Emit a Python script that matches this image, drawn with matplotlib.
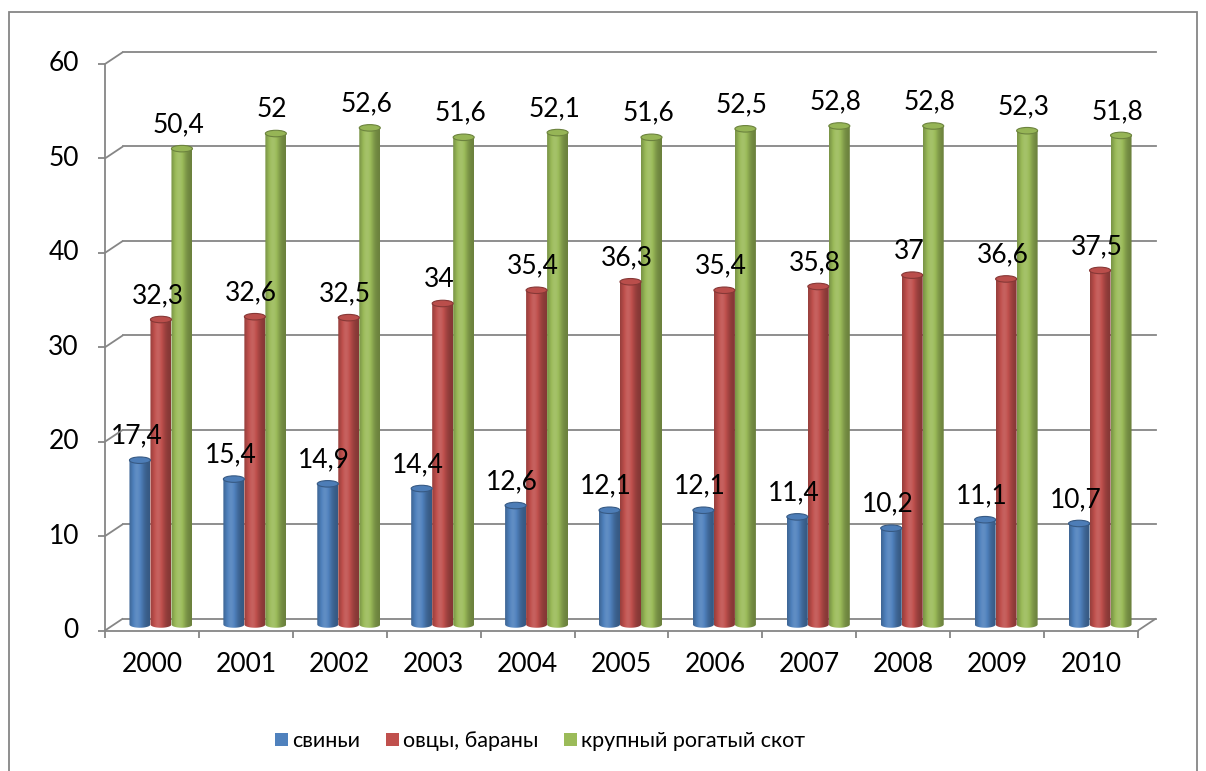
import numpy as np
import matplotlib
matplotlib.use('Agg')
import matplotlib.pyplot as plt
from matplotlib.patches import Ellipse, PathPatch, Patch, Rectangle
from matplotlib.path import Path
from matplotlib.transforms import Affine2D
from matplotlib.lines import Line2D

plt.rcParams['font.family'] = ['Lato', 'DejaVu Sans']

################## data ##################################
years = ['2000', '2001', '2002', '2003', '2004', '2005', '2006', '2007', '2008', '2009', '2010']
pigs = [17.4, 15.4, 14.9, 14.4, 12.6, 12.1, 12.1, 11.4, 10.2, 11.1, 10.7]
sheep = [32.3, 32.6, 32.5, 34, 35.4, 36.3, 35.4, 35.8, 37, 36.6, 37.5]
cattle = [50.4, 52, 52.6, 51.6, 52.1, 51.6, 52.5, 52.8, 52.8, 52.3, 51.8]
series_names = ['свиньи', 'овцы, бараны', 'крупный рогатый скот']
yticks = [0, 10, 20, 30, 40, 50, 60]

colors = ['#4F81BD', '#C0504D', '#9BBB59']
grid_col = '#868686'
fsize = 19

################## figure / fake 3d geometry ############################
W, H = 1206, 771
fig = plt.figure(figsize=(W / 100, H / 100), dpi=100)
top_px, zero_px = 58, 624.5          # middle depth plane
ppu = (zero_px - top_px) / 60.0
left_px, width_px = 114, 1033
ax = fig.add_axes([left_px / W, (H - zero_px - ppu) / H, width_px / W, (zero_px - top_px + ppu) / H])
ax.set_xlim(-0.5, len(years) - 0.5)
ax.set_ylim(-1, 60)
ax.axis('off')

depth_x, depth_y = 9, 6
back = ax.transData + Affine2D().translate(depth_x, depth_y)
front = ax.transData + Affine2D().translate(-depth_x, -depth_y)
xmin, xmax = -0.5, len(years) - 0.5


def seg(p, q, **kw):
    fig.add_artist(Line2D([p[0], q[0]], [p[1], q[1]], transform=None, color=grid_col,
                          lw=1.3, solid_capstyle='butt', **kw))


# back wall gridlines + left diagonals + front y axis ticks
for v in yticks:
    ax.plot([xmin, xmax], [v, v], transform=back, color=grid_col, lw=1.3, clip_on=False, zorder=1)
    pf = front.transform((xmin, v))
    pb = back.transform((xmin, v))
    seg(pf, pb)
    seg((pf[0] - 7, pf[1]), pf)
    ax.annotate(str(v), xy=(xmin, v), xycoords=front, xytext=(-26, 0), textcoords='offset pixels',
                ha='right', va='center', fontsize=fsize)

# front y axis line
ax.plot([xmin, xmin], [0, 60], transform=front, color=grid_col, lw=1.3, clip_on=False)
# front floor line + right diagonal + category ticks
ax.plot([xmin, xmax], [0, 0], transform=front, color=grid_col, lw=1.3, clip_on=False)
seg(front.transform((xmax, 0)), back.transform((xmax, 0)))
for i in range(len(years) + 1):
    p = front.transform((i - 0.5, 0))
    seg(p, (p[0], p[1] - 7))
for i, y in enumerate(years):
    ax.annotate(y, xy=(i, 0), xycoords=front, xytext=(0, -34), textcoords='offset pixels',
                ha='center', va='center', fontsize=fsize)


################## cylinders ############################
def shade(base, f):
    c = np.array(matplotlib.colors.to_rgb(base))
    if f > 1:
        return c + (1 - c) * (f - 1)
    return c * f


bw = 21.0 / (width_px / len(years))
eh = 6.5 / ppu
t = np.linspace(0, 1, 40)
prof = 0.68 + 0.42 * np.exp(-((t - 0.38) / 0.33) ** 2)

for s, vals in enumerate([pigs, sheep, cattle]):
    grad = np.array([[shade(colors[s], f) for f in prof]])
    for i, v in enumerate(vals):
        xc = i + (s - 1) * bw
        x0, x1 = xc - bw / 2, xc + bw / 2
        th = np.linspace(np.pi, 2 * np.pi, 25)
        verts = [(x0, v)] + list(zip(xc + bw / 2 * np.cos(th), eh / 2 * np.sin(th))) + [(x1, v), (x0, v)]
        codes = [Path.MOVETO] + [Path.LINETO] * (len(verts) - 2) + [Path.CLOSEPOLY]
        body = PathPatch(Path(verts, codes), facecolor='none', edgecolor='none', zorder=3)
        ax.add_patch(body)
        im = ax.imshow(grad, extent=[x0, x1, -eh, v], aspect='auto', interpolation='bilinear', zorder=3)
        im.set_clip_path(body)
        ax.add_patch(Ellipse((xc, v), bw, eh, facecolor=shade(colors[s], 0.97),
                             edgecolor=shade(colors[s], 0.7), lw=0.8, zorder=4))
        lab = ('%g' % v).replace('.', ',')
        ax.annotate(lab, xy=(xc, v), xytext=(-3.5, 24), textcoords='offset pixels',
                    ha='center', va='center', fontsize=fsize, zorder=10)

ax.set_xlim(xmin, xmax)
ax.set_ylim(-1, 60)

################## legend + frame ############################
handles = [Patch(facecolor=c, edgecolor='none') for c in colors]
fig.legend(handles, series_names, loc='center', bbox_to_anchor=(540 / W, (H - 741) / H),
           ncol=3, frameon=False, fontsize=15.5, handlelength=0.6, handleheight=0.6,
           handletextpad=0.2, columnspacing=1.2)

fig.add_artist(Rectangle((9 / W, -0.02), (1197 - 9) / W, (H - 12) / H + 0.02, transform=fig.transFigure,
                         facecolor='none', edgecolor=grid_col, lw=1.3))

plt.savefig('out.png', dpi=100)
